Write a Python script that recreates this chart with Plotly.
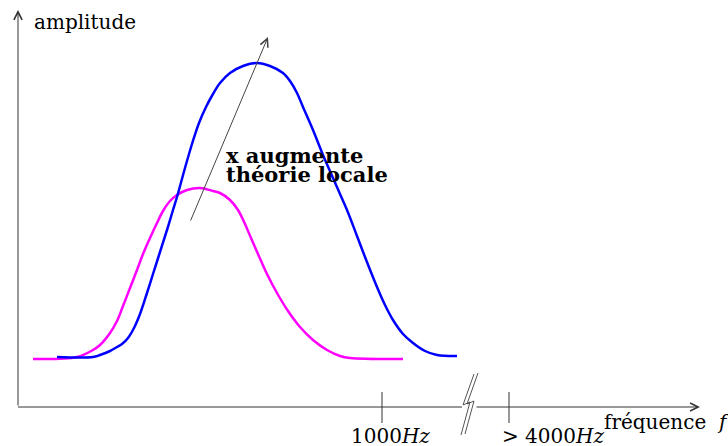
import plotly.graph_objects as go

# ---- data (x: frequency position, y: amplitude) ----
blue_x = [39, 75, 82, 92, 99, 104, 110, 116, 122, 129, 135, 142, 149, 155, 159, 167, 174, 181,
          188, 195, 202, 212, 225, 239, 252, 265, 272, 279, 285, 295, 305, 315, 322, 329, 339,
          347, 359, 367, 375, 385, 395, 407, 419, 439]
blue_y = [50, 50, 52, 56, 60, 63, 69, 79, 93, 114, 133, 155, 177, 197, 210, 239, 263, 284,
          300, 313, 324, 334, 341, 344, 341, 334, 326, 314, 300, 277, 252, 229, 213, 197, 171,
          150, 120, 102, 87, 73, 64, 56, 52, 51]

magenta_x = [15, 59, 75, 82, 92, 99, 105, 112, 119, 125, 132, 139, 145, 152, 159, 169, 182,
             195, 202, 212, 220, 227, 233, 240, 249, 259, 270, 282, 295, 309, 322, 332, 385]
magenta_y = [48, 50, 57, 62, 74, 86, 101, 119, 137, 153, 169, 184, 196, 206, 212, 217, 219,
             216, 214, 207, 197, 183, 169, 153, 133, 114, 96, 80, 67, 57, 51, 49, 48]

tick_pos = [364, 491]
tick_labels = ["1000<i>Hz</i>", "&gt; 4000<i>Hz</i>"]
tick_label_x = [372, 535]

annot_lines = ["x augmente", "théorie locale"]

AX = "#333333"
FONT = "DejaVu Serif"

fig = go.Figure()
fig.add_trace(go.Scatter(x=magenta_x, y=magenta_y, mode="lines",
                         line=dict(color="#ff00ff", width=2.5, shape="spline", smoothing=1.0),
                         hoverinfo="skip"))
fig.add_trace(go.Scatter(x=blue_x, y=blue_y, mode="lines",
                         line=dict(color="#0000ff", width=2.5, shape="spline", smoothing=1.0),
                         hoverinfo="skip"))

annotations = []
shapes = []

def arrow(x0, y0, x1, y1, color=AX):
    annotations.append(dict(x=x1, y=y1, ax=x0, ay=y0, xref="x", yref="y", axref="x", ayref="y",
                            text="", showarrow=True, arrowhead=5, arrowsize=1.6, arrowwidth=1,
                            arrowcolor=color, standoff=0, startstandoff=0))

def seg(x0, y0, x1, y1, color=AX, w=1):
    shapes.append(dict(type="line", x0=x0, y0=y0, x1=x1, y1=y1, xref="x", yref="y",
                       line=dict(color=color, width=w)))

# axes
arrow(0, 0, 0, 397)
seg(0, 0, 444, 0)
arrow(457, 0, 682, 0)
# axis break (double zigzag)
brk = [(456, 33), (445, 2), (452, 5), (443, -28)]
for dx, dy in ((0, 0), (4, 1)):
    for i in range(len(brk) - 1):
        seg(brk[i][0] + dx, brk[i][1] + dy, brk[i + 1][0] + dx, brk[i + 1][1] + dy, color="#555555", w=1)
# ticks
for t in tick_pos:
    seg(t, -16, t, 15)
for lx, lab in zip(tick_label_x, tick_labels):
    annotations.append(dict(x=lx, y=-29, xref="x", yref="y", text=lab, showarrow=False,
                            xanchor="center", yanchor="middle",
                            font=dict(family=FONT, size=20, color="black")))

# axis titles
annotations.append(dict(x=14, y=385, xref="x", yref="y", text="amplitude", showarrow=False,
                        xanchor="left", yanchor="middle", font=dict(family=FONT, size=20, color="black")))
annotations.append(dict(x=584, y=-15, xref="x", yref="y", text="fréquence  <i>f</i>", showarrow=False,
                        xanchor="left", yanchor="middle", font=dict(family=FONT, size=20, color="black")))

# trend arrow and its text
arrow(172, 185, 250, 370, color="#444444")
for i, line in enumerate(annot_lines):
    annotations.append(dict(x=206, y=252 - 19 * i, xref="x", yref="y", text="<b>%s</b>" % line,
                            showarrow=False, xanchor="left", yanchor="middle",
                            font=dict(family=FONT, size=21, color="black")))

fig.update_layout(
    width=728, height=446, margin=dict(l=0, r=0, t=0, b=0),
    paper_bgcolor="white", plot_bgcolor="white", showlegend=False,
    xaxis=dict(range=[-18, 710], visible=False, fixedrange=True),
    yaxis=dict(range=[-39, 407], visible=False, fixedrange=True),
    annotations=annotations, shapes=shapes,
)

fig.write_html("out.html", config={"displayModeBar": False},
               post_script="document.body.style.margin='0';document.body.style.overflow='hidden';")
